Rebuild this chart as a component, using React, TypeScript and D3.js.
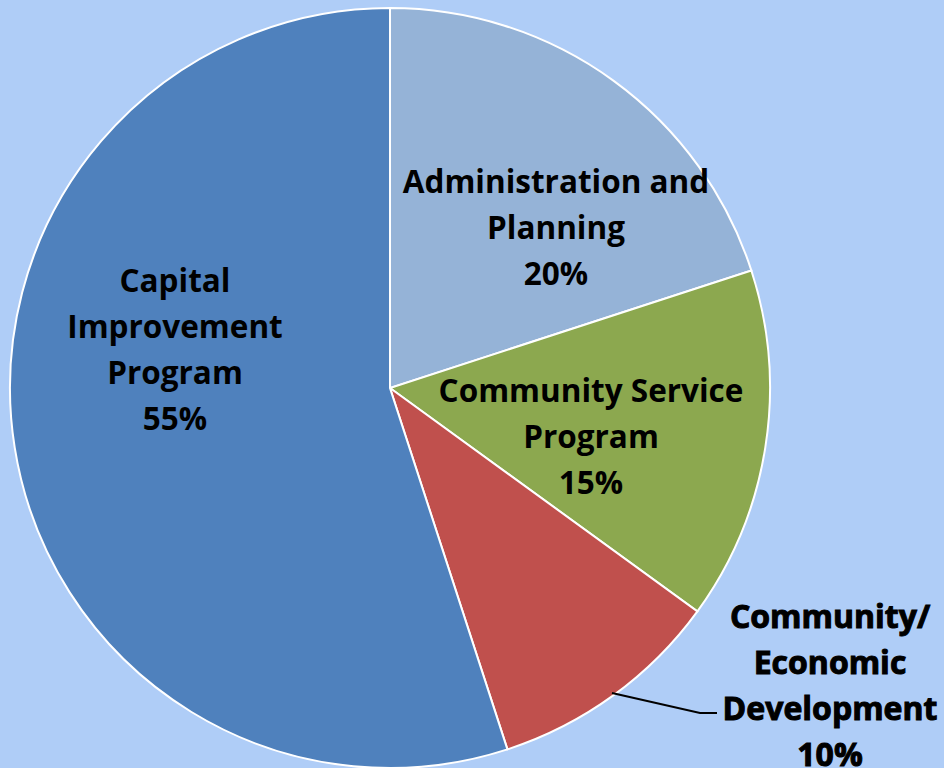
import React from "react";
import * as d3 from "d3";

const categories = ["Administration and Planning", "Community Service Program", "Community/ Economic Development", "Capital Improvement Program"];
const values = [20, 15, 10, 55];
const labelLines = [
  ["Administration and", "Planning", "20%"],
  ["Community Service", "Program", "15%"],
  ["Community/", "Economic", "Development", "10%"],
  ["Capital", "Improvement", "Program", "55%"],
];
const colors = ["#95B3D7", "#8CA84F", "#C0504D", "#4F81BD"];

const W = 944, H = 768;
const cx = 390, cy = 388, R = 380;

export default function App() {
  const pie = d3.pie<number>().sort(null).value((d) => d)(values);
  const arc = d3.arc<d3.PieArcDatum<number>>().innerRadius(0).outerRadius(R);
  const labelPos: [number, number][] = [
    [556, 228],
    [591, 437],
    [830, 686],
    [175, 350],
  ];
  const lineH = 46;
  return (
    <svg width={W} height={H} style={{ position: "absolute", left: 0, top: 0, display: "block" }}>
      <rect width={W} height={H} fill="#AFCDF7" />
      <g transform={`translate(${cx},${cy})`}>
        {pie.map((p, i) => (
          <path key={i} d={arc(p) || ""} fill={colors[i]} stroke="#FFFFFF" strokeWidth={2} />
        ))}
      </g>
      <polyline points="612,693 700,713 717,713" fill="none" stroke="#000" strokeWidth={2} />
      {labelLines.map((lines, i) => {
        const [x, y] = labelPos[i];
        const y0 = y - ((lines.length - 1) * lineH) / 2;
        const outside = i === 2;
        return (
          <text
            key={i}
            textAnchor="middle"
            fontFamily="'Open Sans', Lato, sans-serif"
            fontWeight={700}
            fontSize={outside ? 32 : 31.5}
            fill="#000"
            stroke={outside ? "#000" : "none"}
            strokeWidth={outside ? 1 : 0}
          >
            {lines.map((l, j) => (
              <tspan key={j} x={x} y={y0 + j * lineH} dy="0.35em">{l}</tspan>
            ))}
          </text>
        );
      })}
    </svg>
  );
}
